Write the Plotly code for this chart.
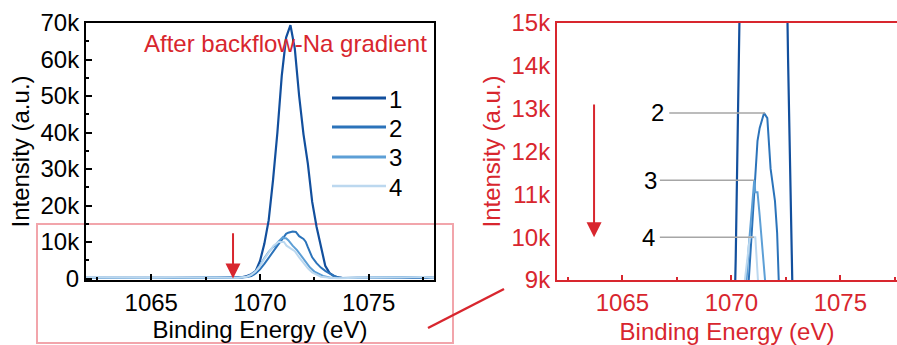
import plotly.graph_objects as go

# ---------------- data (binding energy in eV, intensity in k counts) ----------------
be_1 = [1062.0, 1063.0, 1064.0, 1065.0, 1066.0, 1067.0, 1068.0, 1068.6, 1069.0, 1069.2, 1069.4, 1069.6,
        1069.8, 1070.0, 1070.2, 1070.4, 1070.6, 1070.8, 1071.0, 1071.2, 1071.4, 1071.6, 1071.8,
        1072.0, 1072.2, 1072.4, 1072.6, 1072.8, 1073.0, 1073.2, 1073.4, 1073.6, 1073.8, 1074.5,
        1075.5, 1076.5, 1077.5, 1078.0]
int_1 = [0.15, 0.2, 0.15, 0.2, 0.15, 0.2, 0.2, 0.2, 0.25, 0.4, 0.7, 1.2,
         2.0, 4.8, 9.5, 16.0, 27.0, 40.0, 55.5, 66.0, 69.4, 63.0, 50.0,
         39.5, 31.5, 21.0, 14.2, 8.6, 3.5, 1.5, 0.7, 0.3, 0.15, 0.15,
         0.2, 0.15, 0.2, 0.15]

be_2 = [1062.0, 1063.0, 1064.0, 1065.0, 1066.0, 1067.0, 1068.0, 1068.6, 1069.0, 1069.4, 1069.6, 1069.8,
        1070.0, 1070.2, 1070.4, 1070.6, 1070.8, 1071.0, 1071.1, 1071.2, 1071.3, 1071.4, 1071.5,
        1071.65, 1071.8, 1072.0, 1072.1, 1072.2, 1072.4, 1072.6, 1072.8, 1073.0, 1073.2, 1073.4,
        1073.6, 1073.8, 1074.5, 1075.5, 1076.5, 1077.5, 1078.0]
int_2 = [0.2, 0.15, 0.2, 0.2, 0.15, 0.25, 0.2, 0.2, 0.2, 0.4, 0.7, 1.4,
         2.5, 4.0, 5.7, 7.6, 9.0, 10.6, 11.3, 12.25, 12.55, 12.75, 12.9,
         12.78, 11.6, 10.85, 10.1, 8.6, 5.8, 4.2, 3.0, 2.1, 1.4, 0.7,
         0.3, 0.15, 0.2, 0.15, 0.2, 0.3, 0.2]

be_3 = [1062.0, 1063.0, 1064.0, 1065.0, 1066.0, 1067.0, 1068.0, 1068.6, 1069.0, 1069.4, 1069.6, 1069.8,
        1070.0, 1070.2, 1070.4, 1070.6, 1070.7, 1070.8, 1070.9, 1071.0, 1071.05, 1071.1, 1071.2,
        1071.3, 1071.4, 1071.5, 1071.7, 1071.9, 1072.1, 1072.3, 1072.5, 1072.7, 1072.9, 1073.2,
        1073.6, 1074.5, 1075.5, 1076.5, 1077.5, 1078.0]
int_3 = [0.25, 0.2, 0.3, 0.2, 0.25, 0.2, 0.3, 0.25, 0.2, 0.5, 1.0, 2.0,
         3.6, 5.6, 7.3, 8.6, 9.0, 9.8, 10.5, 11.0, 11.33, 11.05, 11.05,
         10.5, 9.7, 9.0, 7.8, 6.1, 4.6, 3.0, 1.9, 1.2, 0.7, 0.3,
         0.15, 0.2, 0.25, 0.2, 0.4, 0.2]

be_4 = [1062.0, 1063.0, 1064.0, 1065.0, 1066.0, 1067.0, 1068.0, 1068.6, 1069.0, 1069.4, 1069.6, 1069.8,
        1070.0, 1070.2, 1070.4, 1070.62, 1070.85, 1071.0, 1071.1, 1071.22, 1071.4, 1071.6, 1071.8,
        1072.0, 1072.2, 1072.4, 1072.6, 1072.8, 1073.2, 1073.6, 1074.5, 1075.5, 1076.5, 1077.5,
        1078.0]
int_4 = [0.3, 0.25, 0.3, 0.2, 0.3, 0.25, 0.3, 0.3, 0.25, 0.5, 1.0, 1.9,
         3.4, 5.4, 7.2, 9.0, 10.0, 10.0, 10.0, 9.0, 8.4, 7.5, 5.8,
         4.3, 2.8, 1.7, 1.0, 0.5, 0.2, 0.1, 0.25, 0.2, 0.3, 0.45,
         0.25]

series_names = ["1", "2", "3", "4"]

x_tick_vals = [1065, 1070, 1075]
x_tick_text = ["1065", "1070", "1075"]
x_minor_vals = [1062.5, 1067.5, 1072.5, 1077.5]

y_tick_vals = [0, 10000, 20000, 30000, 40000, 50000, 60000, 70000]
y_tick_text = ["0", "10k", "20k", "30k", "40k", "50k", "60k", "70k"]
y_minor_vals = [5000, 15000, 25000, 35000, 45000, 55000, 65000]

y2_tick_vals = [9000, 10000, 11000, 12000, 13000, 14000, 15000]
y2_tick_text = ["9k", "10k", "11k", "12k", "13k", "14k", "15k"]

# zoom-panel labels: (label, peak energy, peak intensity in k)
zoom_labels = [("2", 1071.54, 12.9), ("3", 1071.04, 11.33), ("4", 1071.04, 10.0)]

# ---------------- styling ----------------
RED = "#d8262e"
PINK = "#f2a5ab"
BLUES = ["#124f9d", "#2b73ba", "#5d9fd6", "#bcd8ef"]
FONT = "Arial, 'Liberation Sans', sans-serif"
W, H = 897, 345

def px(xp):
    return xp / W

def py(yp):
    return (H - yp) / H

fig = go.Figure()

series = [(be_1, int_1), (be_2, int_2), (be_3, int_3), (be_4, int_4)]
for idx in [0, 1, 2, 3]:
    xs, ys = series[idx]
    yv = [v * 1000 for v in ys]
    for xa, ya in (("x", "y"), ("x2", "y2")):
        fig.add_trace(go.Scatter(x=xs, y=yv, mode="lines", name=series_names[idx],
                                 line=dict(color=BLUES[idx], width=2.2 if idx == 0 else 2),
                                 xaxis=xa, yaxis=ya, showlegend=False, hoverinfo="skip"))

y_dom = [py(280), py(23)]

common = dict(showgrid=False, zeroline=False, automargin=False)

fig.update_layout(
    template="none",
    width=W, height=H,
    margin=dict(l=0, r=0, t=0, b=0, pad=0),
    paper_bgcolor="white", plot_bgcolor="rgba(0,0,0,0)",
    font=dict(family=FONT, size=24, color="black"),
    xaxis=dict(domain=[px(86), px(434)], range=[1062, 1078], anchor="y",
               showline=True, linecolor="black", linewidth=2, mirror=True,
               ticks="inside", ticklen=6, tickwidth=2, tickcolor="black",
               tickvals=x_tick_vals, ticktext=x_tick_text,
               minor=dict(tickvals=x_minor_vals, ticks="inside", ticklen=3, tickwidth=2, tickcolor="black"),
               tickfont=dict(size=24, color="black"),
               title=dict(text="Binding Energy (eV)", standoff=6, font=dict(size=24, color="black")),
               **common),
    yaxis=dict(domain=y_dom, range=[-400, 70000], anchor="x",
               showline=True, linecolor="black", linewidth=2, mirror=True,
               ticks="inside", ticklen=6, tickwidth=2, tickcolor="black",
               tickvals=y_tick_vals, ticktext=y_tick_text,
               minor=dict(tickvals=y_minor_vals, ticks="inside", ticklen=3, tickwidth=2, tickcolor="black"),
               tickfont=dict(size=24, color="black"),
               title=dict(text="Intensity (a.u.)", standoff=4, font=dict(size=24, color="black")),
               **common),
    xaxis2=dict(domain=[px(557), 1.0], range=[1062, 1077.6], anchor="y2",
                showline=True, linecolor=RED, linewidth=2, mirror=True,
                ticks="inside", ticklen=5, tickwidth=2, tickcolor=RED,
                tickvals=x_tick_vals, ticktext=x_tick_text,
                minor=dict(tickvals=x_minor_vals, ticks="inside", ticklen=3, tickwidth=2, tickcolor=RED),
                tickfont=dict(size=24, color=RED),
                title=dict(text="Binding Energy (eV)", standoff=8, font=dict(size=24, color=RED)),
                **common),
    yaxis2=dict(domain=y_dom, range=[9000, 15000], anchor="x2",
                showline=True, linecolor=RED, linewidth=2, mirror=False,
                ticks="", tickvals=y2_tick_vals, ticktext=y2_tick_text,
                tickfont=dict(size=24, color=RED),
                title=dict(text="Intensity (a.u.)", standoff=4, font=dict(size=24, color=RED)),
                **common),
)

shapes = []
annotations = []

# zoom indicator rectangle and connector
shapes.append(dict(type="rect", xref="paper", yref="paper", x0=px(37), x1=px(453), y0=py(343), y1=py(224),
                   line=dict(color=PINK, width=2), fillcolor="rgba(0,0,0,0)", layer="below"))
shapes.append(dict(type="line", xref="paper", yref="paper", x0=px(428), y0=py(328), x1=px(504), y1=py(289),
                   line=dict(color=RED, width=2.5)))

# manual legend
legend_rows = [98, 127, 157, 186]
for i, name in enumerate(series_names):
    shapes.append(dict(type="line", xref="paper", yref="paper", x0=px(332), x1=px(386),
                       y0=py(legend_rows[i]), y1=py(legend_rows[i]),
                       line=dict(color=BLUES[i], width=3 if i < 3 else 2.5)))
    annotations.append(dict(text=name, xref="paper", yref="paper", x=px(387), y=py(legend_rows[i] + 1),
                            xanchor="left", yanchor="middle", showarrow=False,
                            font=dict(size=24, color="black")))

# title text in left panel
annotations.append(dict(text="After backflow-Na gradient", xref="paper", yref="paper",
                        x=px(429), y=py(43), xanchor="right", yanchor="middle", showarrow=False,
                        font=dict(size=24, color=RED)))

# labels with leader lines in zoom panel
label_text_x = {"2": 1066.6, "3": 1066.3, "4": 1066.2}
line_start_x = {"2": 1067.15, "3": 1066.72, "4": 1066.72}
for lab, xe, yk in zoom_labels:
    shapes.append(dict(type="line", xref="x2", yref="y2", x0=line_start_x[lab], x1=xe,
                       y0=yk * 1000, y1=yk * 1000, line=dict(color="#a6a6a6", width=1.5)))
    annotations.append(dict(text=lab, xref="x2", yref="y2", x=label_text_x[lab], y=yk * 1000,
                            xanchor="center", yanchor="middle", showarrow=False,
                            font=dict(size=24, color="black")))

# red arrows
annotations.append(dict(text="", x=1068.76, y=0, xref="x", yref="y", ax=1068.76, ay=12850,
                        axref="x", ayref="y", showarrow=True, arrowhead=2, arrowsize=1.5,
                        arrowwidth=2, arrowcolor=RED))
annotations.append(dict(text="", x=1063.7, y=10000, xref="x2", yref="y2", ax=1063.7, ay=13130,
                        axref="x2", ayref="y2", showarrow=True, arrowhead=2, arrowsize=1.5,
                        arrowwidth=2, arrowcolor=RED))

fig.update_layout(shapes=shapes, annotations=annotations)

fig.write_html("out.html")
